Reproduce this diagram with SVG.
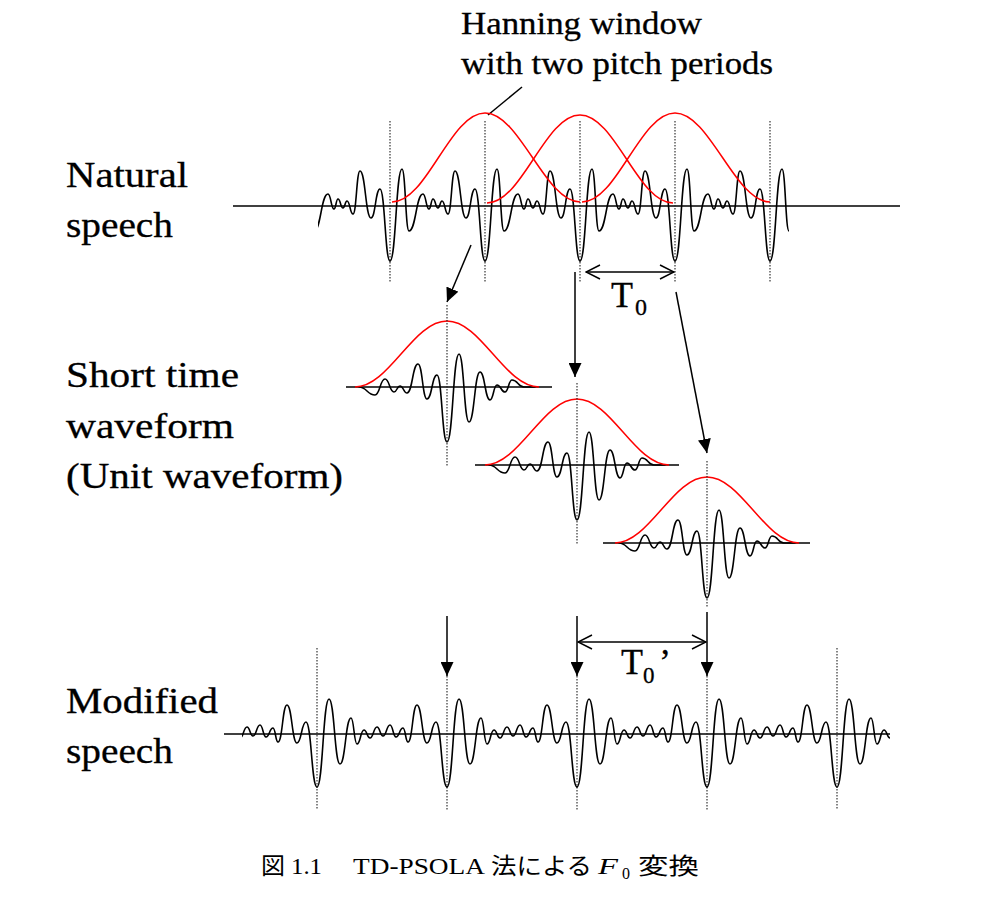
<svg xmlns="http://www.w3.org/2000/svg" width="984" height="900" viewBox="0 0 984 900">
<style>
.lbl{font-family:"Liberation Serif","Times New Roman",serif;font-size:35px;fill:#000;stroke:#000;stroke-width:0.3}
.small{font-family:"Liberation Serif","Times New Roman",serif;font-size:31px;fill:#000;stroke:#000;stroke-width:0.3}
.cap{font-family:"Liberation Serif","Times New Roman","Noto Sans CJK JP",serif;font-size:23px;fill:#000}
.wave{fill:none;stroke:#000;stroke-width:1.6;stroke-linejoin:round;stroke-linecap:round}
.win{fill:none;stroke:#f00;stroke-width:1.5}
.axis{stroke:#000;stroke-width:1.6}
.dot{stroke:#222;stroke-width:1.1;stroke-dasharray:1.5 1.5}
.arr{stroke:#000;stroke-width:1.5;fill:none}
</style>
<defs>
<marker id="head" viewBox="0 0 14 13" refX="14" refY="6.5" markerWidth="14" markerHeight="13" markerUnits="userSpaceOnUse" orient="auto">
<path d="M0,0 L14,6.5 L0,13 z" fill="#000"/>
</marker>
<marker id="open" viewBox="0 0 16 16" refX="15" refY="8" markerWidth="16" markerHeight="16" markerUnits="userSpaceOnUse" orient="auto-start-reverse">
<path d="M1,1 L15,8 L1,15" fill="none" stroke="#000" stroke-width="1.5"/>
</marker>
<path id="nat" d="M0,55 C6,55 6,-37 12,-37 C15.5,-37 15.5,25 19,25 C26,25 26,-12 33,-12 C36,-12 36,3 39,3 C41,3 41,-7 43,-7 C45.5,-7 45.5,2 48,2 C50,2 50,-5 52,-5 C55,-5 55,8 58,8 C61.5,8 61.5,-35 65,-35 C70.5,-35 70.5,12 76,12 C80.5,12 80.5,-17 85,-17 C90,-17 90,55 95,55"/>
<path id="mod" d="M0,53 C6,53 6,-35 12,-35 C17.5,-35 17.5,30 23,30 C28.5,30 28.5,-16 34,-16 C37,-16 37,10 40,10 C43.5,10 43.5,-4 47,-4 C50,-4 50,4 53,4 C56.5,4 56.5,-7 60,-7 C63,-7 63,2 66,2 C69.5,2 69.5,-9 73,-9 C76,-9 76,3 79,3 C82.5,3 82.5,-6 86,-6 C88.5,-6 88.5,8 91,8 C95.5,8 95.5,-29 100,-29 C105,-29 105,9 110,9 C114.5,9 114.5,-12 119,-12 C124.5,-12 124.5,53 130,53"/>
<path id="unit" d="M-88,0 C-80,0 -80,8 -72,8 C-67,8 -67,-8 -62,-8 C-57.5,-8 -57.5,5 -53,5 C-50,5 -50,-1 -47,-1 C-43.5,-1 -43.5,6 -40,6 C-34.5,6 -34.5,-23 -29,-23 C-24.5,-23 -24.5,12 -20,12 C-15,12 -15,-12 -10,-12 C-5,-12 -5,55 0,55 C6,55 6,-33 12,-33 C17,-33 17,35 22,35 C27.5,35 27.5,-15 33,-15 C38,-15 38,13 43,13 C46.5,13 46.5,-2 50,-2 C54,-2 54,5 58,5 C61.5,5 61.5,-7 65,-7 C71,-7 71,0 77,0 L88,0"/>
<path id="uwin" d="M-92,0 C-58,0 -34,-66 0,-66 C34,-66 58,0 92,0"/>
<clipPath id="cNat"><rect x="318" y="100" width="471" height="200"/></clipPath>
<clipPath id="cMod"><rect x="242" y="640" width="648" height="180"/></clipPath>
</defs>

<g id="title">
<text class="small" x="461" y="34" textLength="241" lengthAdjust="spacingAndGlyphs">Hanning window</text>
<text class="small" x="461" y="74" textLength="312" lengthAdjust="spacingAndGlyphs">with two pitch periods</text>
<line class="arr" x1="522" y1="87" x2="488" y2="115"/>
</g>

<g id="labels">
<text class="lbl" x="66" y="187" textLength="122" lengthAdjust="spacingAndGlyphs">Natural</text>
<text class="lbl" x="66" y="237" textLength="107" lengthAdjust="spacingAndGlyphs">speech</text>
<text class="lbl" x="66" y="387" textLength="173" lengthAdjust="spacingAndGlyphs">Short time</text>
<text class="lbl" x="66" y="438" textLength="168" lengthAdjust="spacingAndGlyphs">waveform</text>
<text class="lbl" x="66" y="488" textLength="277" lengthAdjust="spacingAndGlyphs">(Unit waveform)</text>
<text class="lbl" x="66" y="713" textLength="152" lengthAdjust="spacingAndGlyphs">Modified</text>
<text class="lbl" x="66" y="763" textLength="107" lengthAdjust="spacingAndGlyphs">speech</text>
</g>

<g id="natural">
<line class="axis" x1="233" y1="206" x2="900" y2="206"/>
<g class="wave" clip-path="url(#cNat)">
<use href="#nat" transform="translate(295,206)"/>
<use href="#nat" transform="translate(390,206)"/>
<use href="#nat" transform="translate(485,206)"/>
<use href="#nat" transform="translate(580,206)"/>
<use href="#nat" transform="translate(675,206)"/>
<use href="#nat" transform="translate(770,206)"/>
</g>
<path class="win" d="M392,202 C427,202 450,113 485,113 C520,113 545,202 580,202"/>
<path class="win" d="M487,203 C522,203 545,115 580,115 C615,115 638,203 673,203"/>
<path class="win" d="M582,202 C617,202 640,113 675,113 C710,113 735,202 770,202"/>
<line class="dot" x1="390" y1="121" x2="390" y2="282"/>
<line class="dot" x1="485" y1="121" x2="485" y2="282"/>
<line class="dot" x1="580" y1="121" x2="580" y2="282"/>
<line class="dot" x1="675" y1="121" x2="675" y2="282"/>
<line class="dot" x1="770" y1="121" x2="770" y2="282"/>
</g>

<g id="unit1">
<line class="axis" x1="346" y1="387" x2="552" y2="387"/>
<use href="#unit" class="wave" transform="translate(447,387)"/>
<use href="#uwin" class="win" transform="translate(447,387)"/>
<line class="dot" x1="447" y1="305" x2="447" y2="467"/>
</g>
<g id="unit2">
<line class="axis" x1="475" y1="465" x2="679" y2="465"/>
<use href="#unit" class="wave" transform="translate(577,465)"/>
<use href="#uwin" class="win" transform="translate(577,465)"/>
<line class="dot" x1="577" y1="383" x2="577" y2="545"/>
</g>
<g id="unit3">
<line class="axis" x1="603" y1="543" x2="810" y2="543"/>
<use href="#unit" class="wave" transform="translate(707,543)"/>
<use href="#uwin" class="win" transform="translate(707,543)"/>
<line class="dot" x1="707" y1="461" x2="707" y2="608"/>
</g>

<g id="modified">
<line class="axis" x1="224" y1="734" x2="890" y2="734"/>
<g class="wave" clip-path="url(#cMod)">
<use href="#mod" transform="translate(187,734)"/>
<use href="#mod" transform="translate(317,734)"/>
<use href="#mod" transform="translate(447,734)"/>
<use href="#mod" transform="translate(577,734)"/>
<use href="#mod" transform="translate(707,734)"/>
<use href="#mod" transform="translate(837,734)"/>
</g>
<line class="dot" x1="317" y1="648" x2="317" y2="810"/>
<line class="dot" x1="447" y1="676" x2="447" y2="810"/>
<line class="dot" x1="577" y1="676" x2="577" y2="810"/>
<line class="dot" x1="707" y1="676" x2="707" y2="810"/>
<line class="dot" x1="837" y1="648" x2="837" y2="810"/>
</g>

<g id="connectors">
<line class="arr" x1="471" y1="245" x2="447" y2="302" marker-end="url(#head)"/>
<line class="arr" x1="575" y1="272" x2="575" y2="377" marker-end="url(#head)"/>
<line class="arr" x1="676" y1="292" x2="707" y2="453" marker-end="url(#head)"/>
<line class="arr" x1="586" y1="272" x2="674" y2="272" marker-start="url(#open)" marker-end="url(#open)"/>
<line class="arr" x1="447" y1="616" x2="447" y2="676" marker-end="url(#head)"/>
<line class="arr" x1="577" y1="616" x2="577" y2="676" marker-end="url(#head)"/>
<line class="arr" x1="707" y1="612" x2="707" y2="676" marker-end="url(#head)"/>
<line class="arr" x1="578" y1="642" x2="706" y2="642" marker-start="url(#open)" marker-end="url(#open)"/>
</g>

<g id="period-labels">
<text class="lbl" x="611" y="307" style="font-size:36px">T<tspan x="635" y="315" style="font-size:24px">0</tspan></text>
<text class="lbl" x="621" y="674" style="font-size:36px">T<tspan x="643" y="683" style="font-size:23px">0</tspan><tspan x="659" y="674">’</tspan></text>
</g>

<g id="caption">
<text class="cap" y="874"><tspan x="261" textLength="24" lengthAdjust="spacingAndGlyphs">図</tspan><tspan x="291" textLength="31" lengthAdjust="spacingAndGlyphs">1.1</tspan><tspan x="353" textLength="132" lengthAdjust="spacingAndGlyphs">TD-PSOLA</tspan><tspan x="491" textLength="101" lengthAdjust="spacingAndGlyphs">法による</tspan><tspan x="598" font-style="italic" textLength="20" lengthAdjust="spacingAndGlyphs">F</tspan><tspan x="622" y="879" style="font-size:16px">0</tspan><tspan x="638" y="874" textLength="61" lengthAdjust="spacingAndGlyphs">変換</tspan></text>
</g>
</svg>
